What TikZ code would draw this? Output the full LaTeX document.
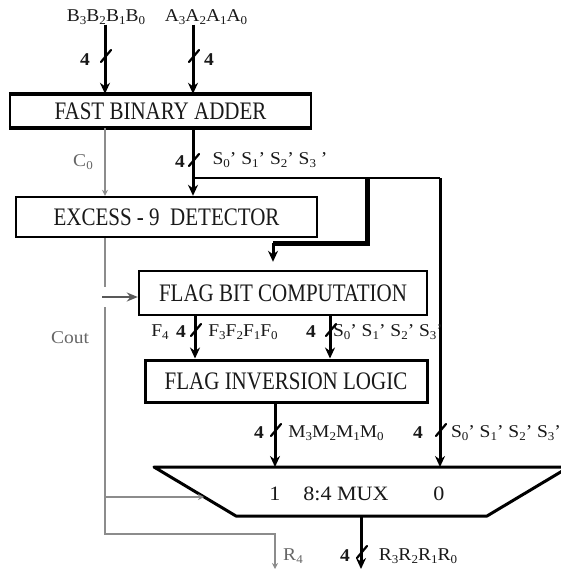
\documentclass[tikz,border=0pt]{standalone}
\usepackage{fontspec}
\setmainfont{Liberation Serif}
\usetikzlibrary{arrows.meta}
\newcommand{\sbx}[1]{{\fontsize{10}{10}\selectfont\raisebox{-2.5pt}{#1}}}
\newcommand{\boxtext}[1]{\scalebox{1}[1.2]{#1}}
\newcommand{\labtext}[1]{\scalebox{1.3}[1.2]{#1}}
\newcommand{\busslash}[2]{\draw[slashmark] (#1-4,#2+6) -- (#1+6,#2-6);}
\begin{document}
\begin{tikzpicture}[x=1pt,y=-1pt,
  blk/.style={draw, line width=2.4pt, inner sep=0pt, text=black!90,
    font=\fontsize{21}{21}\selectfont},
  lab/.style={inner sep=0pt, text=black!90, font=\fontsize{15}{15}\selectfont},
  glab/.style={lab, text=black!60},
  bus/.style={line width=3pt, -{Stealth[length=11pt,width=10pt]}},
  sig/.style={line width=1.5pt, draw=black!45},
  sigarrow/.style={sig, -{Stealth[length=6pt,width=6pt]}},
  slashmark/.style={line width=2.2pt, line cap=round},
]
\useasboundingbox (0,0) rectangle (561,571);

% column coordinates
\coordinate (cB) at (105,0);
\coordinate (cA) at (193,0);
\coordinate (cF) at (195,0);
\coordinate (cS) at (330,0);

% blocks
\node[blk, minimum width=301pt, minimum height=32pt] (adder) at (160.5,111) {\boxtext{FAST BINARY ADDER}};
\draw[line width=3.5pt] (adder.north west) -- (adder.north east);
\draw[line width=3.5pt] (adder.south west) -- (adder.south east);
\node[blk, minimum width=301pt, minimum height=40pt] (excess) at (166.5,217) {\boxtext{EXCESS - 9\ \ DETECTOR}};
\node[blk, minimum width=288pt, minimum height=44pt] (flagbit) at (283,293) {\boxtext{FLAG BIT COMPUTATION}};
\node[blk, line width=3pt, minimum width=282pt, minimum height=42pt] (flaginv) at (286,381) {\boxtext{FLAG INVERSION LOGIC}};

% mux
\coordinate (muxTL) at (154,467);
\coordinate (muxTR) at (569,467);
\coordinate (muxBR) at (487,516);
\coordinate (muxBL) at (236,516);
\coordinate (muxT) at (361,467);
\coordinate (muxB) at (361,516);
\draw[line width=3pt, line join=round] (muxTL) -- (muxTR) -- (muxBR) -- (muxBL) -- cycle;
\node[lab, font=\fontsize{17}{17}\selectfont] (one) at (275,494) {\labtext{1}};
\node[lab, font=\fontsize{17}{17}\selectfont] (muxlab) at (346,494) {\labtext{8:4 MUX}};
\node[lab, font=\fontsize{17}{17}\selectfont] (zero) at (439,494) {\labtext{0}};

% top labels
\node[lab] (Blab) at (106,17) {\labtext{B\sbx{3}B\sbx{2}B\sbx{1}B\sbx{0}}};
\node[lab] (Alab) at (206,17) {\labtext{A\sbx{3}A\sbx{2}A\sbx{1}A\sbx{0}}};
\node[lab] (n4a) at (85,60) {\labtext{\textbf{4}}};
\node[lab] (n4b) at (209,60) {\labtext{\textbf{4}}};

\draw[bus] (Blab.south -| cB) -- (adder.north -| cB);
\draw[bus] (Alab.south -| cA) -- (adder.north -| cA);
\busslash{105}{56}
\busslash{193}{56}

% adder to excess
\node[glab] (co) at (83,162) {\labtext{C\sbx{0}}};
\node[lab] (n4c) at (180,162) {\labtext{\textbf{4}}};
\node[lab] (s1lab) at (270,160) {\labtext{S\sbx{0}' S\sbx{1}' S\sbx{2}' S\sbx{3} '}};
\draw[sigarrow] (adder.south -| cB) -- (excess.north -| cB);
\draw[bus] (adder.south -| cA) -- (excess.north -| cA);
\busslash{193}{160}

% branch to flag bit and mux
\coordinate (j1) at (193,178);
\coordinate (j2) at (367,178);
\coordinate (j3) at (367,243);
\coordinate (j4) at (273,243);
\coordinate (cR) at (440,178);
\draw[line width=2.8pt] (j1) -- (cR);
\draw[line width=5pt] (j2) -- (j3) -- (j4);
\draw[bus, shorten >=8pt] (j4) -- (flagbit.north -| j4);
\draw[bus] (cR) -- (cR |- muxT);

% Cout path
\coordinate (gapT) at (105,287);
\coordinate (gapB) at (105,307);
\coordinate (arrS) at (102,297);
\coordinate (turn) at (105,534);
\coordinate (r4end) at (275,569);
\coordinate (br) at (105,497);
\coordinate (muxL) at (204,497);
\draw[sig] (excess.south -| cB) -- (gapT);
\draw[sigarrow] (gapB) -- (turn) -| (r4end);
\draw[sigarrow] (br) -- (muxL);
\draw[line width=1.8pt, draw=black!65, -{Stealth[length=11pt,width=9pt]}] (arrS) -- (arrS -| flagbit.west);
\node[glab] (cout) at (70,338) {\labtext{Cout}};

% flag bit to flag inversion
\node[lab] (f4) at (160,332) {\labtext{F\sbx{4}}};
\node[lab] (n4d) at (181,332) {\labtext{\textbf{4}}};
\node[lab] (flab) at (243,332) {\labtext{F\sbx{3}F\sbx{2}F\sbx{1}F\sbx{0}}};
\node[lab] (n4e) at (311,332) {\labtext{\textbf{4}}};
\node[lab] (s2lab) at (388,332) {\labtext{S\sbx{0}' S\sbx{1}' S\sbx{2}' S\sbx{3}'}};
\draw[bus] (flagbit.south -| cF) -- (flaginv.north -| cF);
\draw[bus] (flagbit.south -| cS) -- (flaginv.north -| cS);
\busslash{195}{330}
\busslash{330}{330}

% flag inversion to mux
\node[lab] (n4f) at (259,433) {\labtext{\textbf{4}}};
\node[lab] (mlab) at (336,433) {\labtext{M\sbx{3}M\sbx{2}M\sbx{1}M\sbx{0}}};
\node[lab] (n4g) at (418,433) {\labtext{\textbf{4}}};
\node[lab] (s3lab) at (506,433) {\labtext{S\sbx{0}' S\sbx{1}' S\sbx{2}' S\sbx{3}'}};
\draw[bus] (flaginv.south -| one) -- (one |- muxT);
\busslash{275}{430}
\busslash{440}{430}

% mux output
\coordinate (outEnd) at (361,569);
\node[glab] (r4) at (293,556) {\labtext{R\sbx{4}}};
\node[lab] (n4h) at (345,556) {\labtext{\textbf{4}}};
\node[lab] (rlab) at (418,556) {\labtext{R\sbx{3}R\sbx{2}R\sbx{1}R\sbx{0}}};
\draw[bus] (muxB) -- (outEnd);
\busslash{361}{552}
\end{tikzpicture}
\end{document}
